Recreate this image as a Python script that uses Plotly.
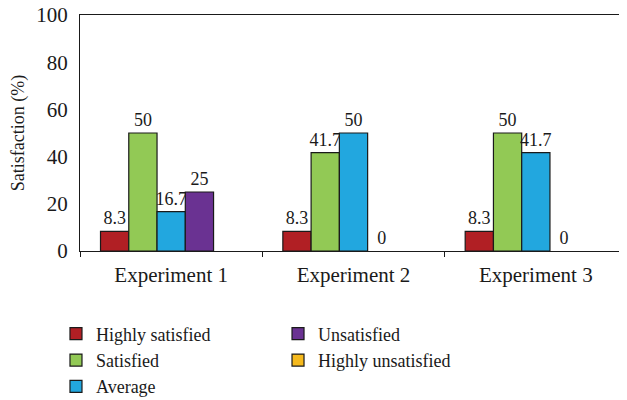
import plotly.graph_objects as go

categories = ["Experiment 1", "Experiment 2", "Experiment 3"]
series_names = ["Highly satisfied", "Satisfied", "Average", "Unsatisfied", "Highly unsatisfied"]
highly_satisfied = [8.3, 8.3, 8.3]
satisfied = [50, 41.7, 50]
average = [16.7, 50, 41.7]
unsatisfied = [25, 0, 0]
highly_unsatisfied = [None, None, None]
highly_unsatisfied_labels = ["", "", ""]
y_ticks = [0, 20, 40, 60, 80, 100]

colors = ["#B11F24", "#92C955", "#22A7DF", "#6A3292", "#F5B91D"]
values = [highly_satisfied, satisfied, average, unsatisfied, highly_unsatisfied]
legends = ["legend", "legend", "legend", "legend2", "legend2"]

FONT = "Liberation Serif"

fig = go.Figure()
for i, (name, vals) in enumerate(zip(series_names, values)):
    if i == 4:
        texts = highly_unsatisfied_labels
    else:
        texts = [f"{v:g}" for v in vals]
    # no outline on zero-height bars
    lw = [1.2 if (v is None or v > 0) else 0 for v in vals]
    fig.add_trace(go.Bar(
        x=categories, y=vals, name=name,
        marker=dict(color=colors[i], line=dict(color="#1a1a1a", width=lw)),
        text=texts, textposition="outside", constraintext="none",
        textfont=dict(family=FONT, size=18, color="#1a1a1a"),
        cliponaxis=False, legend=legends[i],
    ))

# the page body adds an 8px offset at the top-left of the figure
fig.update_layout(
    width=619, height=400,
    margin=dict(l=72, r=0, t=7, b=157),
    paper_bgcolor="white", plot_bgcolor="white",
    barmode="group", bargap=0.225, bargroupgap=0,
    font=dict(family=FONT, size=18, color="#1a1a1a"),
    xaxis=dict(
        showline=True, linecolor="#1a1a1a", linewidth=1.2, mirror=True,
        ticks="outside", tickson="boundaries", ticklen=5, tickcolor="#1a1a1a",
        tickfont=dict(family=FONT, size=21), automargin=False,
        ticklabelstandoff=5,
    ),
    yaxis=dict(
        range=[0, 100], tickvals=y_ticks, showgrid=False, zeroline=False,
        showline=True, linecolor="#1a1a1a", linewidth=1.2,
        ticks="", tickfont=dict(family=FONT, size=21), ticklabelstandoff=7,
        ticklabeloverflow="allow",
        automargin=False,
        title=dict(text="Satisfaction (%)", font=dict(family=FONT, size=18), standoff=17),
    ),
    legend=dict(
        x=-0.0439, y=-0.273, xanchor="left", yanchor="top",
        orientation="v", tracegroupgap=0,
        font=dict(family=FONT, size=18), bgcolor="rgba(0,0,0,0)",
    ),
    legend2=dict(
        x=0.362, y=-0.273, xanchor="left", yanchor="top",
        orientation="v", tracegroupgap=0,
        font=dict(family=FONT, size=18), bgcolor="rgba(0,0,0,0)",
    ),
    showlegend=True,
)

fig.write_html("out.html")
